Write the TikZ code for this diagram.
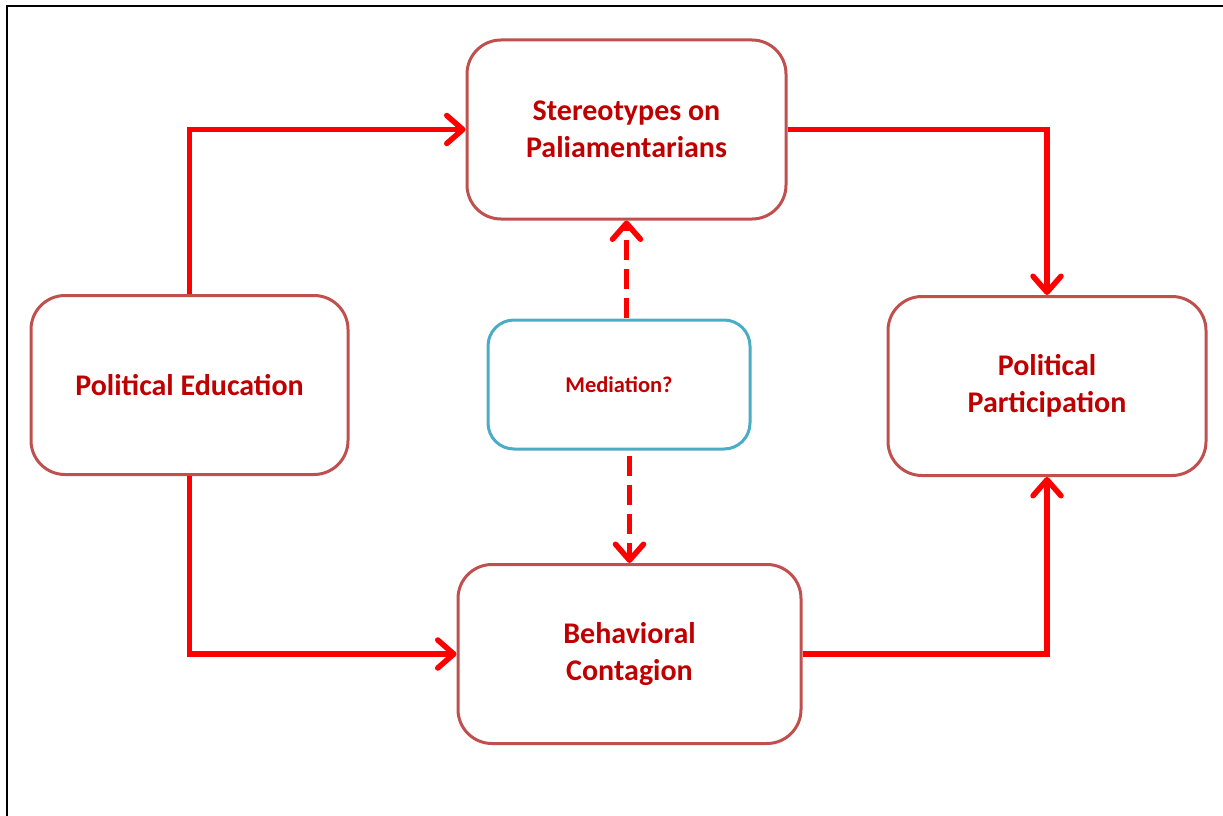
\documentclass[tikz,border=0pt]{standalone}
\usepackage{fontspec}
\setmainfont{Carlito}
\usetikzlibrary{arrows.meta}
\definecolor{txtred}{HTML}{C00000}
\definecolor{boxred}{HTML}{C0504D}
\definecolor{boxblue}{HTML}{4BACC6}
\definecolor{arrred}{HTML}{FF0000}
\begin{document}
\begin{tikzpicture}[x=1pt,y=-1pt,
  box/.style={draw=boxred, line width=3pt, rounded corners=34pt, fill=white,
    minimum width=#1, minimum height=179pt, align=center, text=txtred,
    font=\bfseries\fontsize{30}{37}\selectfont},
  medbox/.style={draw=boxblue, line width=3pt, rounded corners=26pt, fill=white,
    minimum width=262pt, minimum height=129pt, align=center, text=txtred,
    font=\bfseries\fontsize{22.5}{27}\selectfont},
  tip/.style={-{Straight Barb[length=16pt, width=28pt, line cap=round, line join=round]}},
  link/.style={draw=arrred, line width=5.5pt, tip},
  dasharrow/.style={link, dash pattern=on 20pt off 9pt}
]
\useasboundingbox (0,0) rectangle (1223,816);
% page frame along the left and top edges
\draw[line width=2pt, black] (7,816) -- (7,6) -- (1223,6);

\node[box=319pt] (ster) at (626.5,129.5) {Stereotypes on\\Paliamentarians};
\node[box=317pt] (edu) at (189.5,385) {Political Education};
\node[box=318pt] (part) at (1047,386) {Political\\Participation};
\node[box=343pt] (beh) at (629.5,654) {Behavioral\\Contagion};
\node[medbox] (med) at (619,384.5) {Mediation?};

% solid paths between the outer boxes
\draw[link] (edu.north) |- (ster.west);
\draw[link] (ster.east) -| (part.north);
\draw[link] (edu.south) |- (beh.west);
\draw[link] (beh.east) -| (part.south);

% dashed mediation paths
\draw[dasharrow] ([yshift=1pt]med.north -| ster.south) -- (ster.south);
\draw[dasharrow] ([yshift=-5pt]med.south -| beh.north) -- (beh.north);
\end{tikzpicture}
\end{document}
